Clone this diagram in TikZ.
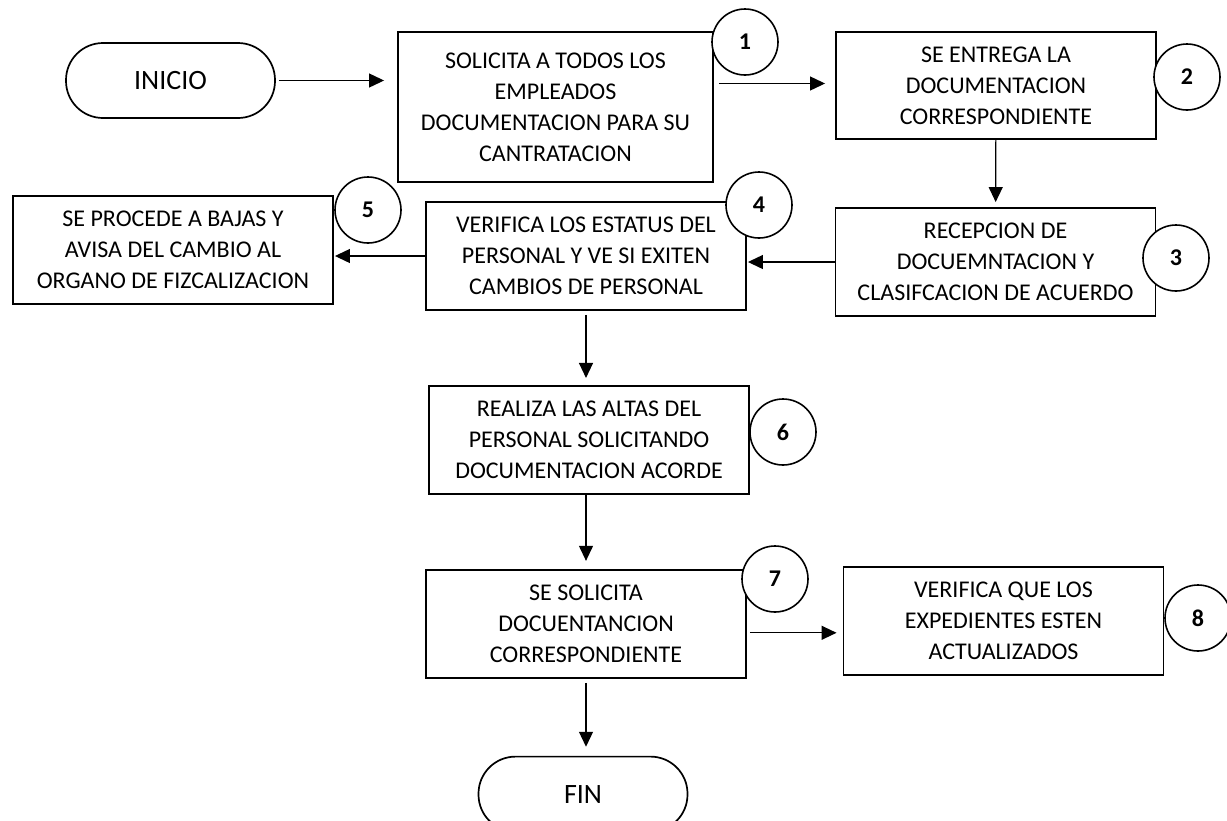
\documentclass[tikz,border=0pt]{standalone}
\usepackage{fontspec}
\setmainfont{Carlito}
\usetikzlibrary{positioning,arrows.meta}

\begin{document}
\begin{tikzpicture}[
    x=1pt, y=-1pt,
    node distance=74pt,
    procbox/.style={draw, rectangle, line width=1.9pt, minimum height=108pt, minimum width=320pt, align=center, inner sep=0pt, font=\fontsize{24}{31}\selectfont},
    termbox/.style={draw, rectangle, line width=1.7pt, rounded corners=37pt, minimum height=75pt, minimum width=209pt, font=\fontsize{28}{32}\selectfont},
    stepnum/.style={draw, circle, line width=1.6pt, fill=white, minimum size=66pt, inner sep=0pt, font=\fontsize{24}{28}\selectfont\bfseries},
    arrow/.style={line width=1.2pt, -{Triangle[length=15pt,width=14pt]}}
]
  \useasboundingbox (0,0) rectangle (1227,820);

  % Nodes
  \node (inicio) [termbox] at (170.5,80.5) {INICIO};

  \node (s1) [procbox, minimum width=315pt, minimum height=150pt] at (555.5,107) {SOLICITA A TODOS LOS\\EMPLEADOS\\DOCUMENTACION PARA SU\\CANTRATACION};

  \node (s2) [procbox, minimum height=107pt] at (996,85.5) {SE ENTREGA LA\\DOCUMENTACION\\CORRESPONDIENTE};

  \node (s3) [procbox] at (995.5,262) {RECEPCION DE\\DOCUEMNTACION Y\\CLASIFCACION DE ACUERDO};

  \node (s4) [procbox] at (586,256) {VERIFICA LOS ESTATUS DEL\\PERSONAL Y VE SI EXITEN\\CAMBIOS DE PERSONAL};

  \node (s5) [procbox] at (173,250) {SE PROCEDE A BAJAS Y\\AVISA DEL CAMBIO AL\\ORGANO DE FIZCALIZACION};

  \node (s6) [procbox, below=of s4, xshift=3pt] {REALIZA LAS ALTAS DEL\\PERSONAL SOLICITANDO\\DOCUMENTACION ACORDE};

  \node (s7) [procbox, below=of s6, xshift=-3pt] {SE SOLICITA\\DOCUENTANCION\\CORRESPONDIENTE};

  \node (s8) [procbox] at (1003.5,621) {VERIFICA QUE LOS\\EXPEDIENTES ESTEN\\ACTUALIZADOS};

  \node (fin) [termbox, below=77pt of s7, xshift=-3pt] {FIN};

  % Step numbers
  \node (n1) [stepnum] at (745,42) {1};
  \node (n2) [stepnum] at (1187,77) {2};
  \node (n3) [stepnum] at (1176,258) {3};
  \node (n4) [stepnum] at (759,205) {4};
  \node (n5) [stepnum] at (368,210) {5};
  \node (n6) [stepnum] at (783,432) {6};
  \node (n7) [stepnum] at (775,579) {7};
  \node (n8) [stepnum] at (1198,618) {8};

  % Arrows
  \draw [arrow, shorten <=3pt, shorten >=13pt] (inicio.east) -- (inicio.east -| s1.west);
  \draw [arrow, shorten <=5pt, shorten >=10pt] ([yshift=2pt]s1.east |- s2.west) -- ([yshift=2pt]s2.west);
  \draw [arrow, shorten >=5pt] (s2) -- (s3);
  \draw [arrow, shorten >=1pt] (s3.west) -- (s3.west -| s4.east);
  \draw [arrow, shorten >=1pt] (s4.west) -- (s4.west -| s5.east);
  \draw [arrow, shorten <=4pt, shorten >=7pt] (s4) -- (s4 |- s6.north);
  \draw [arrow, shorten >=8pt] (s6.south -| s7) -- (s7);
  \draw [arrow, shorten <=3pt, shorten >=6pt] ([yshift=-9pt]s7.east) -- ([yshift=-9pt]s7.east -| s8.west);
  \draw [arrow, shorten <=4pt, shorten >=9pt] (s7) -- (s7 |- fin.north);
\end{tikzpicture}
\end{document}
